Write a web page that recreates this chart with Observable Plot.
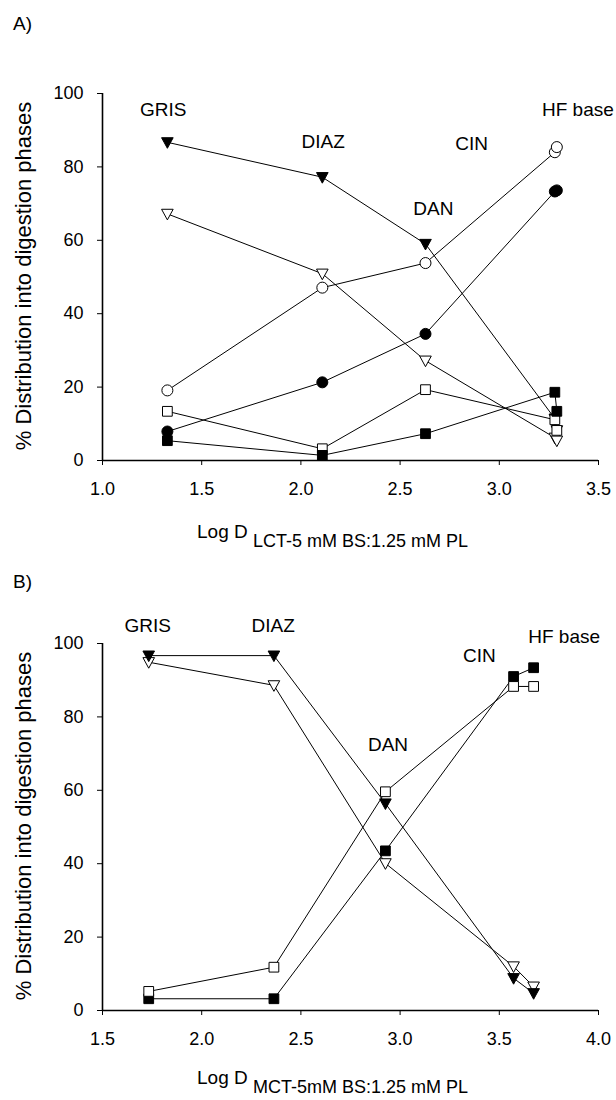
<!DOCTYPE html>
<html><head><meta charset="utf-8">
<script src="https://cdn.jsdelivr.net/npm/d3@7"></script>
<script src="https://cdn.jsdelivr.net/npm/@observablehq/plot@0.6"></script>
<style>
body{margin:0;background:#fff;}
#wrap{position:relative;width:616px;height:1100px;overflow:hidden;background:#fff}
#wrap > svg{position:absolute;left:0}
</style></head><body><div id="wrap"></div>
<script>
// ---- Data ----
const drugs = ["GRIS", "DIAZ", "DAN", "CIN", "HF base"];
const yTicks = [0, 20, 40, 60, 80, 100];

// Panel A: Log D (LCT-5 mM BS:1.25 mM PL)
const logDA = [1.327, 2.108, 2.628, 3.28, 3.29];
const xTicksA = [1.0, 1.5, 2.0, 2.5, 3.0, 3.5];
const filledTriA  = [86.7, 77.2, 59.0, 11.4, 8.2];
const openTriA    = [67.2, 50.9, 27.2, 6.2, 5.4];
const openCircA   = [19.1, 47.1, 53.8, 84.0, 85.4];
const filledCircA = [7.9, 21.3, 34.5, 73.3, 73.6];
const openSqA     = [13.4, 3.2, 19.3, 11.1, 8.2];
const filledSqA   = [5.4, 1.4, 7.3, 18.6, 13.4];
const labelXA = [1.306, 2.112, 2.668, 2.86, 3.215];
const labelYA = [95.4, 86.7, 68.6, 86.3, 95.4];

// Panel B: Log D (MCT-5mM BS:1.25 mM PL)
const logDB = [1.733, 2.364, 2.926, 3.572, 3.673];
const xTicksB = [1.5, 2.0, 2.5, 3.0, 3.5, 4.0];
const filledTriB = [96.7, 96.7, 56.4, 8.8, 4.7];
const openTriB   = [94.9, 88.6, 40.1, 12.0, 6.5];
const openSqB    = [5.2, 11.8, 59.6, 88.3, 88.3];
const filledSqB  = [3.2, 3.2, 43.5, 91.0, 93.4];
const labelXB = [1.728, 2.36, 2.939, 3.40, 3.646];
const labelYB = [104.8, 104.8, 72.3, 96.7, 101.8];

// ---- Symbols ----
const triDown = {draw(ctx, size) {
  const k = Math.sqrt(size) / 9.75;
  ctx.moveTo(-5.8 * k, -4.6 * k); ctx.lineTo(5.8 * k, -4.6 * k); ctx.lineTo(0, 6 * k); ctx.closePath();
}};

const FONT = "'Liberation Sans', Arial, sans-serif";

function panel(logD, series, lx, ly, xDomain, xTicks) {
  const labels = drugs.map((t, i) => ({t, x: lx[i], y: ly[i]}));
  const marks = [
    Plot.axisX({ticks: xTicks, tickFormat: d3.format(".1f"), tickSize: 5, tickPadding: 17, label: null}),
    Plot.axisY({ticks: yTicks, tickSize: 5, tickPadding: 14, label: null}),
    Plot.ruleY([0], {stroke: "black", strokeWidth: 1.6}),
    Plot.ruleX([xDomain[0]], {stroke: "black", strokeWidth: 1.6})
  ];
  const tables = series.map(s => logD.map((x, i) => ({x, y: s.values[i]})));
  tables.forEach(d => marks.push(Plot.line(d, {x: "x", y: "y", stroke: "black", strokeWidth: 1})));
  series.forEach((s, j) => marks.push(Plot.dot(tables[j], {x: "x", y: "y", symbol: s.symbol, r: 5.5, fill: s.fill, stroke: "black", strokeWidth: 1})));
  marks.push(Plot.text(labels.filter(d => d.t !== "HF base"), {x: "x", y: "y", text: "t", fontSize: 19, fill: "black"}));
  marks.push(Plot.text(labels.filter(d => d.t === "HF base"), {x: "x", y: "y", text: "t", fontSize: 19, fill: "black", textAnchor: "start"}));
  return Plot.plot({
    width: 616, height: 530,
    marginLeft: 102, marginRight: 18, marginTop: 93, marginBottom: 70,
    x: {domain: xDomain},
    y: {domain: [0, 100]},
    style: {fontFamily: FONT, fontSize: "18px", color: "black", background: "transparent", overflow: "visible"},
    marks
  });
}

const wrap = document.getElementById("wrap");

const pA = panel(logDA, [
  {values: filledTriA, symbol: triDown, fill: "black"},
  {values: openTriA, symbol: triDown, fill: "white"},
  {values: filledCircA, symbol: "circle", fill: "black"},
  {values: openCircA, symbol: "circle", fill: "white"},
  {values: openSqA, symbol: "square", fill: "white"},
  {values: filledSqA, symbol: "square", fill: "black"}
], labelXA, labelYA, [1.0, 3.5], xTicksA);
pA.style.top = "0px";
wrap.appendChild(pA);

const pB = panel(logDB, [
  {values: openTriB, symbol: triDown, fill: "white"},
  {values: filledTriB, symbol: triDown, fill: "black"},
  {values: filledSqB, symbol: "square", fill: "black"},
  {values: openSqB, symbol: "square", fill: "white"}
], labelXB, labelYB, [1.5, 4.0], xTicksB);
pB.style.top = "550px";
wrap.appendChild(pB);

// ---- Overlay texts (panel letters, axis titles) ----
const ov = d3.select(wrap).append("svg")
  .attr("width", 616).attr("height", 1100)
  .style("top", "0px")
  .style("font-family", FONT).style("fill", "black");
ov.append("text").attr("x", 13).attr("y", 30).attr("font-size", 19).text("A)");
ov.append("text").attr("x", 13).attr("y", 588).attr("font-size", 19).text("B)");
const yTitle = "% Distribution into digestion phases";
[276, 826].forEach(cy => ov.append("text")
  .attr("transform", `translate(31,${cy}) rotate(-90)`)
  .attr("text-anchor", "middle").attr("font-size", 22).text(yTitle));
function xTitle(base, sub) {
  const t = ov.append("text").attr("x", 197).attr("y", base).attr("font-size", 19);
  t.append("tspan").text("Log D ");
  t.append("tspan").attr("dy", 9).attr("font-size", 18).text(sub);
}
xTitle(538, "LCT-5 mM BS:1.25 mM PL");
xTitle(1084, "MCT-5mM BS:1.25 mM PL");
</script>
</body></html>
